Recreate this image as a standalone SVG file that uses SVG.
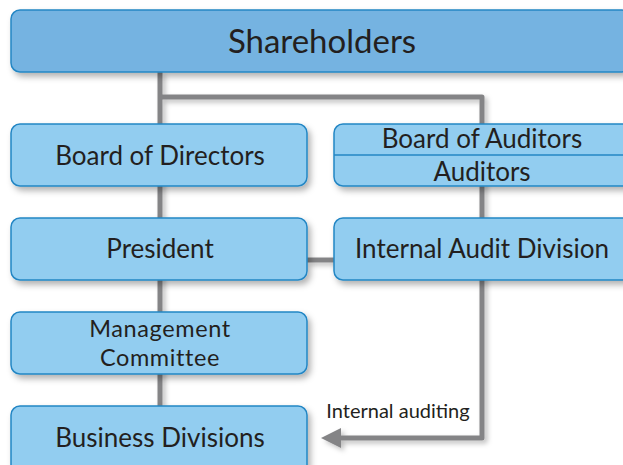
<svg xmlns="http://www.w3.org/2000/svg" width="623" height="465" viewBox="0 0 623 465">
<defs>
<filter id="sh" x="-10%" y="-20%" width="130%" height="160%">
<feDropShadow dx="3" dy="4" stdDeviation="3" flood-color="#000" flood-opacity="0.3"/>
</filter>
<filter id="lsh" filterUnits="userSpaceOnUse" x="0" y="0" width="623" height="465">
<feDropShadow dx="3" dy="3" stdDeviation="2.5" flood-color="#000" flood-opacity="0.25"/>
</filter>
<marker id="arr" viewBox="0 0 20 20" refX="3" refY="10" markerWidth="20" markerHeight="20" orient="auto" markerUnits="userSpaceOnUse">
<path d="M20,10 L0,0 L0,20 Z" fill="#848486"/>
</marker>
<style>
.box{fill:#92cdf0;stroke:#2386c4;stroke-width:1.5;filter:url(#sh)}
.top{fill:#74b3e1;stroke:#2386c4;stroke-width:1.5;filter:url(#sh)}
.ln{fill:none;stroke:#848486;stroke-width:5;stroke-linejoin:round}
text{font-family:Lato,"Open Sans","Liberation Sans",sans-serif;fill:#231f20;text-anchor:middle}
.t{font-size:26px}
.m{font-size:23.5px;letter-spacing:0.6px}
.big{font-size:33px}
.sm{font-size:20px}
</style>
</defs>
<rect width="623" height="465" fill="#ffffff"/>
<g id="connectors" filter="url(#lsh)">
<path class="ln" d="M160,72 V406"/>
<path class="ln" d="M160,97 H482 V438 H338" marker-end="url(#arr)"/>
<path class="ln" d="M307,260 H334"/>
</g>
<g id="shareholders">
<rect class="top" x="11" y="10" width="620" height="62" rx="9"/>
<text class="big" x="322" y="53">Shareholders</text>
</g>
<g id="board-of-directors">
<rect class="box" x="11" y="124" width="296" height="62" rx="9"/>
<text class="t" x="160" y="165">Board of Directors</text>
</g>
<g id="board-of-auditors">
<rect class="box" x="334" y="124" width="300" height="62" rx="9"/>
<line x1="334" y1="155" x2="623" y2="155" stroke="#2386c4" stroke-width="1.5"/>
<text class="t" x="482" y="148">Board of Auditors</text>
<text class="t" x="482" y="181">Auditors</text>
</g>
<g id="president">
<rect class="box" x="11" y="218" width="296" height="62" rx="9"/>
<text class="t" x="160" y="258">President</text>
</g>
<g id="internal-audit-division">
<rect class="box" x="334" y="218" width="300" height="62" rx="9"/>
<text class="t" x="482" y="258">Internal Audit Division</text>
</g>
<g id="management-committee">
<rect class="box" x="11" y="312" width="296" height="62" rx="9"/>
<text class="m" x="160" y="337">Management</text>
<text class="m" x="160" y="366">Committee</text>
</g>
<g id="business-divisions">
<rect class="box" x="11" y="406" width="296" height="70" rx="9"/>
<text class="t" x="160" y="447">Business Divisions</text>
</g>
<g id="label">
<text class="sm" x="398" y="418">Internal auditing</text>
</g>
</svg>
